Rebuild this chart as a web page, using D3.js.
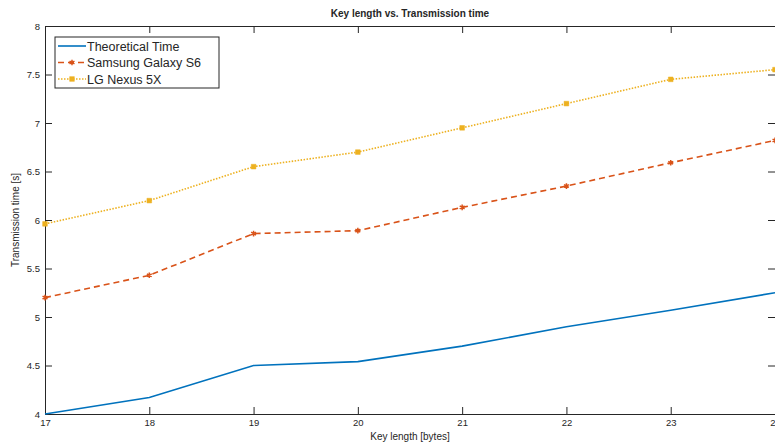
<!DOCTYPE html>
<html>
<head>
<meta charset="utf-8">
<script src="https://cdn.jsdelivr.net/npm/d3@7"></script>
<style>
  body { margin: 0; background: #fff; }
  text { font-family: "Liberation Sans", Arial, sans-serif; fill: #262626; }
</style>
</head>
<body>
<div id="dataviz"></div>
<script>
// Chart data
var keyLengths = [17, 18, 19, 20, 21, 22, 23, 24];
var theoretical = [4.0, 4.17, 4.5, 4.54, 4.70, 4.90, 5.07, 5.25];
var samsung = [5.20, 5.43, 5.86, 5.89, 6.13, 6.35, 6.59, 6.82];
var lgNexus = [5.96, 6.20, 6.55, 6.70, 6.95, 7.20, 7.45, 7.55];
var yTicks = [4, 4.5, 5, 5.5, 6, 6.5, 7, 7.5, 8];
var seriesNames = ["Theoretical Time", "Samsung Galaxy S6", "LG Nexus 5X"];

// Set svg dimensions
const width = 775;
const height = 444;
var margin = {top: 26, right: 0, bottom: 30, left: 45};
var plotWidth = 730;
var plotHeight = 388;

var svg = d3.select("#dataviz")
            .append("svg")
                .attr("width", width)
                .attr("height", height)
            .append("g")
                .attr("transform", "translate(" + margin.left + "," + margin.top + ")");

var scaleX = d3.scaleLinear().domain([17, 24]).range([0, plotWidth]);
var scaleY = d3.scaleLinear().domain([4, 8]).range([plotHeight, 0]);

var axisColor = "#262626";
var tickLen = 7;

// Axes (matlab style: inward ticks, box on)
function styleAxis(g) {
    g.select(".domain").attr("stroke", axisColor).attr("stroke-width", 1);
    g.selectAll(".tick line").attr("stroke", axisColor);
    g.selectAll(".tick text").style("font-size", "9.5px").attr("fill", axisColor);
}

svg.append("g")
    .attr("transform", "translate(0," + plotHeight + ")")
    .call(d3.axisBottom(scaleX).tickValues(keyLengths).tickFormat(d3.format("d"))
            .tickSizeInner(-tickLen).tickSizeOuter(0).tickPadding(5))
    .call(styleAxis);

svg.append("g")
    .call(d3.axisTop(scaleX).tickValues(keyLengths).tickFormat("")
            .tickSizeInner(-tickLen).tickSizeOuter(0))
    .call(styleAxis);

svg.append("g")
    .call(d3.axisLeft(scaleY).tickValues(yTicks).tickFormat(d3.format("~g"))
            .tickSizeInner(-tickLen).tickSizeOuter(0).tickPadding(5))
    .call(styleAxis);

svg.append("g")
    .attr("transform", "translate(" + plotWidth + ",0)")
    .call(d3.axisRight(scaleY).tickValues(yTicks).tickFormat("")
            .tickSizeInner(-tickLen).tickSizeOuter(0))
    .call(styleAxis);

// Labels
svg.append("text")
    .attr("x", plotWidth / 2)
    .attr("y", -9)
    .style("text-anchor", "middle")
    .style("font-size", "10px")
    .style("font-weight", "bold")
    .attr("fill", "#000")
    .text("Key length vs. Transmission time");

svg.append("text")
    .attr("x", plotWidth / 2)
    .attr("y", plotHeight + 26)
    .style("text-anchor", "middle")
    .style("font-size", "10px")
    .text("Key length [bytes]");

svg.append("text")
    .attr("transform", "rotate(-90)")
    .attr("x", -plotHeight / 2)
    .attr("y", -26)
    .style("text-anchor", "middle")
    .style("font-size", "10px")
    .text("Transmission time [s]");

// Series
var series = [
    {name: seriesNames[0], values: theoretical, color: "#0072BD", dash: null, marker: null},
    {name: seriesNames[1], values: samsung, color: "#D95319", dash: "6,4", marker: "asterisk"},
    {name: seriesNames[2], values: lgNexus, color: "#EDB120", dash: "1.5,1.5", marker: "square"}
];

var line = d3.line()
    .x(function(d) { return scaleX(d.x); })
    .y(function(d) { return scaleY(d.y); });

function drawMarker(g, type, color) {
    if (type === "asterisk") {
        g.append("path")
            .attr("d", d3.symbol().type(d3.symbolAsterisk).size(22)())
            .attr("fill", "none")
            .attr("stroke", color)
            .attr("stroke-width", 1.5);
    } else if (type === "square") {
        g.append("path")
            .attr("d", d3.symbol().type(d3.symbolSquare).size(22)())
            .attr("fill", color)
            .attr("stroke", color)
            .attr("stroke-width", 0.5);
    }
}

series.forEach(function(s) {
    var pts = keyLengths.map(function(k, i) { return {x: k, y: s.values[i]}; });
    svg.append("path")
        .datum(pts)
        .attr("fill", "none")
        .attr("stroke", s.color)
        .attr("stroke-width", 1.6)
        .attr("stroke-dasharray", s.dash)
        .attr("d", line);
    if (s.marker) {
        pts.forEach(function(p) {
            var g = svg.append("g")
                .attr("transform", "translate(" + scaleX(p.x) + "," + scaleY(p.y) + ")");
            drawMarker(g, s.marker, s.color);
        });
    }
});

// Legend
var legend = svg.append("g").attr("transform", "translate(10,11)");
legend.append("rect")
    .attr("width", 164)
    .attr("height", 51)
    .attr("fill", "#fff")
    .attr("stroke", axisColor)
    .attr("stroke-width", 1);

series.forEach(function(s, i) {
    var y = 9 + i * 16.5;
    legend.append("line")
        .attr("x1", 3).attr("x2", 31)
        .attr("y1", y).attr("y2", y)
        .attr("stroke", s.color)
        .attr("stroke-width", 1.6)
        .attr("stroke-dasharray", s.dash);
    if (s.marker) {
        var g = legend.append("g").attr("transform", "translate(17," + y + ")");
        drawMarker(g, s.marker, s.color);
    }
    legend.append("text")
        .attr("x", 32)
        .attr("y", y + 4.5)
        .style("font-size", "12.5px")
        .attr("fill", "#000")
        .text(s.name);
});
</script>
</body>
</html>
